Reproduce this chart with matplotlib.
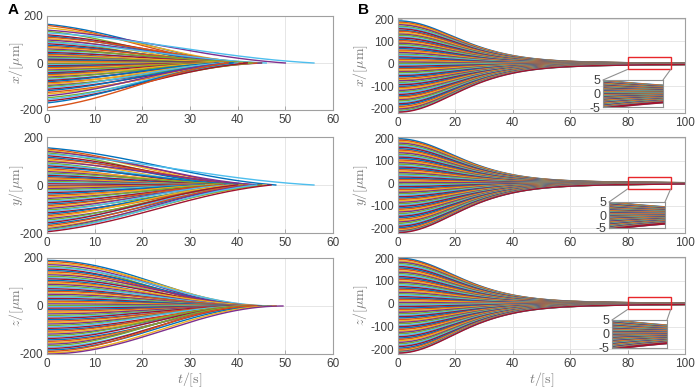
import numpy as np
import matplotlib
matplotlib.use("Agg")
import matplotlib.pyplot as plt
from matplotlib.patches import Rectangle, ConnectionPatch

# ---------------- data ----------------
# Panel A: start positions (um) and convergence times (s) of each trajectory
A_x_start = [165, 160, 150, 140, 135, 128, 120, 115, 110, 104,
             98, 92, 88, 82, 76, 70, 66, 60, 55, 50,
             45, 40, 36, 32, 28, 24, 20, 16, 12, 8,
             4, 0, -4, -8, -12, -16, -20, -25, -30, -34,
             -38, -42, -46, -50, -55, -60, -64, -70, -75, -80,
             -85, -90, -96, -100, -106, -112, -118, -125, -132, -140,
             -148, -155, -162, -170, -190]
A_x_end = [40, 38, 42, 50, 36, 56, 41, 39, 44, 37,
           43, 35, 46, 38, 40, 42, 36, 39, 45, 37,
           41, 34, 38, 43, 36, 40, 33, 39, 37, 35,
           32, 30, 34, 36, 33, 38, 35, 37, 40, 34,
           39, 36, 42, 38, 35, 41, 37, 44, 39, 36,
           43, 38, 45, 40, 37, 42, 39, 44, 41, 38,
           43, 40, 42, 39, 38]

A_y_start = [155, 150, 145, 140, 134, 128, 122, 116, 110, 104,
             98, 92, 86, 80, 74, 68, 62, 56, 50, 45,
             40, 35, 30, 25, 20, 15, 10, 5, 0, -5,
             -10, -15, -20, -26, -32, -38, -44, -50, -56, -62,
             -68, -74, -80, -86, -92, -98, -104, -110, -116, -122,
             -128, -134, -140, -146, -152, -158, -164, -170, -176, -182,
             -186, -190, -195]
A_y_end = [48, 42, 40, 44, 38, 56, 41, 39, 43, 37,
           45, 36, 40, 38, 42, 35, 39, 37, 41, 34,
           38, 36, 33, 37, 35, 32, 34, 31, 30, 33,
           35, 32, 36, 34, 38, 33, 37, 35, 39, 36,
           40, 38, 42, 37, 41, 39, 43, 38, 44, 40,
           42, 39, 45, 41, 43, 40, 44, 42, 46, 43,
           45, 44, 47]

A_z_start = [190, 185, 178, 172, 165, 160, 154, 148, 142, 136,
             130, 124, 118, 113, 107, 101, 95, 90, 84, 78,
             72, 66, 61, 55, 49, 43, 38, 32, 26, 20,
             15, 9, 3, -3, -9, -15, -21, -27, -33, -39,
             -45, -51, -57, -63, -69, -75, -81, -87, -93, -99,
             -105, -111, -117, -123, -129, -135, -141, -147, -153, -159,
             -165, -171, -177, -183, -189, -195, -200]
A_z_end = [46, 44, 47, 45, 43, 48, 44, 46, 45, 43,
           47, 44, 45, 46, 43, 44, 48, 45, 44, 46,
           43, 45, 47, 44, 46, 45, 43, 44, 46, 45,
           44, 47, 45, 43, 46, 44, 45, 48, 44, 46,
           45, 43, 47, 44, 46, 45, 44, 43, 46, 47,
           44, 45, 46, 43, 45, 44, 47, 46, 45, 44,
           43, 46, 45, 47, 44, 48, 49.5]

# Panel B: start positions (um) of each trajectory
B_x_start = [192, 186, 181, 175, 168, 163, 157, 150, 146, 139,
             133, 128, 121, 116, 109, 104, 97, 92, 86, 79,
             74, 68, 61, 56, 50, 43, 38, 31, 26, 19,
             14, 8, 2, -4, -11, -17, -22, -29, -35, -40,
             -47, -53, -58, -65, -71, -76, -83, -89, -94, -101,
             -107, -112, -119, -125, -130, -137, -143, -148, -155, -161,
             -166, -173, -179, -184, -191, -197, -202, -208, -213, -216]
B_y_start = [197, 191, 185, 178, 172, 166, 160, 153, 147, 141,
             135, 128, 122, 116, 110, 103, 97, 91, 85, 78,
             72, 66, 60, 53, 47, 41, 35, 28, 22, 16,
             10, 4, -3, -9, -15, -21, -28, -34, -40, -46,
             -52, -59, -65, -71, -77, -84, -90, -96, -102, -109,
             -115, -121, -127, -134, -140, -146, -152, -159, -165, -171,
             -177, -184, -190, -196, -202, -207, -211, -214, -216, -218]
B_z_start = [200, 195, 188, 182, 176, 170, 163, 157, 151, 144,
             138, 132, 126, 119, 113, 107, 100, 94, 88, 82,
             75, 69, 63, 57, 50, 44, 38, 31, 25, 19,
             13, 6, 0, -6, -12, -19, -25, -31, -37, -44,
             -50, -56, -62, -69, -75, -81, -87, -94, -100, -106,
             -112, -119, -125, -131, -137, -144, -150, -156, -162, -169,
             -175, -181, -187, -194, -200, -205, -209, -212, -214, -216]

A_xticks = [0, 10, 20, 30, 40, 50, 60]
A_yticks = [-200, 0, 200]
B_xticks = [0, 20, 40, 60, 80, 100]
B_yticks = [-200, -100, 0, 100, 200]
inset_yticks = [-5, 0, 5]
ylabels = [r"$x/[\mu\mathrm{m}]$", r"$y/[\mu\mathrm{m}]$", r"$z/[\mu\mathrm{m}]$"]
xlabel = r"$t/[\mathrm{s}]$"

# ---------------- style ----------------
plt.rcParams["font.family"] = ["Liberation Sans", "DejaVu Sans"]
plt.rcParams["mathtext.fontset"] = "cm"
plt.rcParams["axes.unicode_minus"] = False
COLORS = ["#0072BD", "#D95319", "#EDB120", "#7E2F8E", "#77AC30", "#4DBEEE", "#A2142F"]
EDGE = "#a0a0a0"
TICKC = "#404040"
LABC = "#7a7a7a"

fig = plt.figure(figsize=(7.0, 3.91), dpi=100)

def px_axes(l, t, r, b):
    W, H = 700.0, 391.0
    return [l / W, (H - b) / H, (r - l) / W, (b - t) / H]

def style(ax, xlim, ylim, xticks, yticks):
    ax.set_xlim(*xlim)
    ax.set_ylim(*ylim)
    ax.set_xticks(xticks)
    ax.set_yticks(yticks)
    ax.tick_params(direction="in", length=3, width=0.6, colors=EDGE,
                   labelcolor=TICKC, labelsize=8.5, pad=3)
    for s in ax.spines.values():
        s.set_color(EDGE)
        s.set_linewidth(0.8)
    ax.grid(True, color="#e6e6e6", linewidth=0.7)
    ax.set_axisbelow(True)

def shape_A(s, mix):
    s = np.clip(s, 0, 1)
    return mix * (1 - s) + (1 - mix) * 0.5 * (1 + np.cos(np.pi * s))

TAU_B = 28.0
RES = 0.025

def curve_B(t, x0):
    g = np.exp(-(t / TAU_B) ** 2)
    return x0 * (g + RES * (1 - g) ** 3 * np.exp(-(t - 80) / 30.0))

rowsA = [(16, 110), (137, 233), (258, 354)]
rowsB = [(18, 113), (137, 233), (257, 354)]
insets = [(603, 80, 663, 107), (609, 202, 665, 228), (612, 320, 667, 348)]

A_data = [(A_x_start, A_x_end, 0.5), (A_y_start, A_y_end, 0.5), (A_z_start, A_z_end, 0.0)]
B_data = [B_x_start, B_y_start, B_z_start]

for r in range(3):
    # ---- panel A ----
    ax = fig.add_axes(px_axes(47, rowsA[r][0], 333, rowsA[r][1]))
    starts, ends, mix = A_data[r]
    for i, (x0, T) in enumerate(zip(starts, ends)):
        t = np.linspace(0, T, 200)
        ax.plot(t, x0 * shape_A(t / T, mix), color=COLORS[i % 7], lw=1.0)
    style(ax, (0, 60), (-200, 200), A_xticks, A_yticks)
    ax.set_ylabel(ylabels[r], color=LABC, fontsize=10)
    ax.yaxis.set_label_coords(-0.075, 0.5)
    if r == 2:
        ax.set_xlabel(xlabel, color=LABC, fontsize=10, labelpad=0)

    # ---- panel B ----
    axb = fig.add_axes(px_axes(398, rowsB[r][0], 685, rowsB[r][1]))
    t = np.linspace(0, 100, 500)
    for i, x0 in enumerate(B_data[r]):
        axb.plot(t, curve_B(t, x0), color=COLORS[i % 7], lw=1.1)
    style(axb, (0, 100), (-220, 205), B_xticks, B_yticks)
    axb.set_ylabel(ylabels[r], color=LABC, fontsize=10)
    axb.yaxis.set_label_coords(-0.098, 0.5)
    if r == 2:
        axb.set_xlabel(xlabel, color=LABC, fontsize=10, labelpad=0)

    # red zoom rectangle
    rx0, rx1, ry0, ry1 = 80, 95, -25, 30
    axb.add_patch(Rectangle((rx0, ry0), rx1 - rx0, ry1 - ry0, fill=False,
                            edgecolor="#e8262a", lw=1.0, zorder=10))

    # inset
    l, tp, rr, bt = insets[r]
    axi = fig.add_axes(px_axes(l, tp, rr, bt))
    ti = np.linspace(80, 95, 60)
    for i, x0 in enumerate(B_data[r]):
        axi.plot(ti, curve_B(ti, x0), color=COLORS[i % 7], lw=1.6)
    axi.set_xlim(80, 95)
    axi.set_ylim(-5, 5)
    axi.set_xticks([])
    axi.set_yticks(inset_yticks)
    axi.tick_params(direction="in", length=2, colors=EDGE, labelcolor=TICKC,
                    labelsize=9, pad=2)
    for s in axi.spines.values():
        s.set_color("#909090")
        s.set_linewidth(0.8)
    for xa, xb in [((rx0, ry0), (0, 1)), ((rx1, ry0), (1, 1))]:
        cp = ConnectionPatch(xyA=xa, coordsA=axb.transData, xyB=xb,
                             coordsB=axi.transAxes, color="#909090", lw=0.8)
        fig.add_artist(cp)

fig.text(8 / 700, 1 - 10 / 391, "A", fontsize=11, fontweight="bold", va="center")
fig.text(358 / 700, 1 - 10 / 391, "B", fontsize=11, fontweight="bold", va="center")

fig.savefig("out.png", dpi=100)
